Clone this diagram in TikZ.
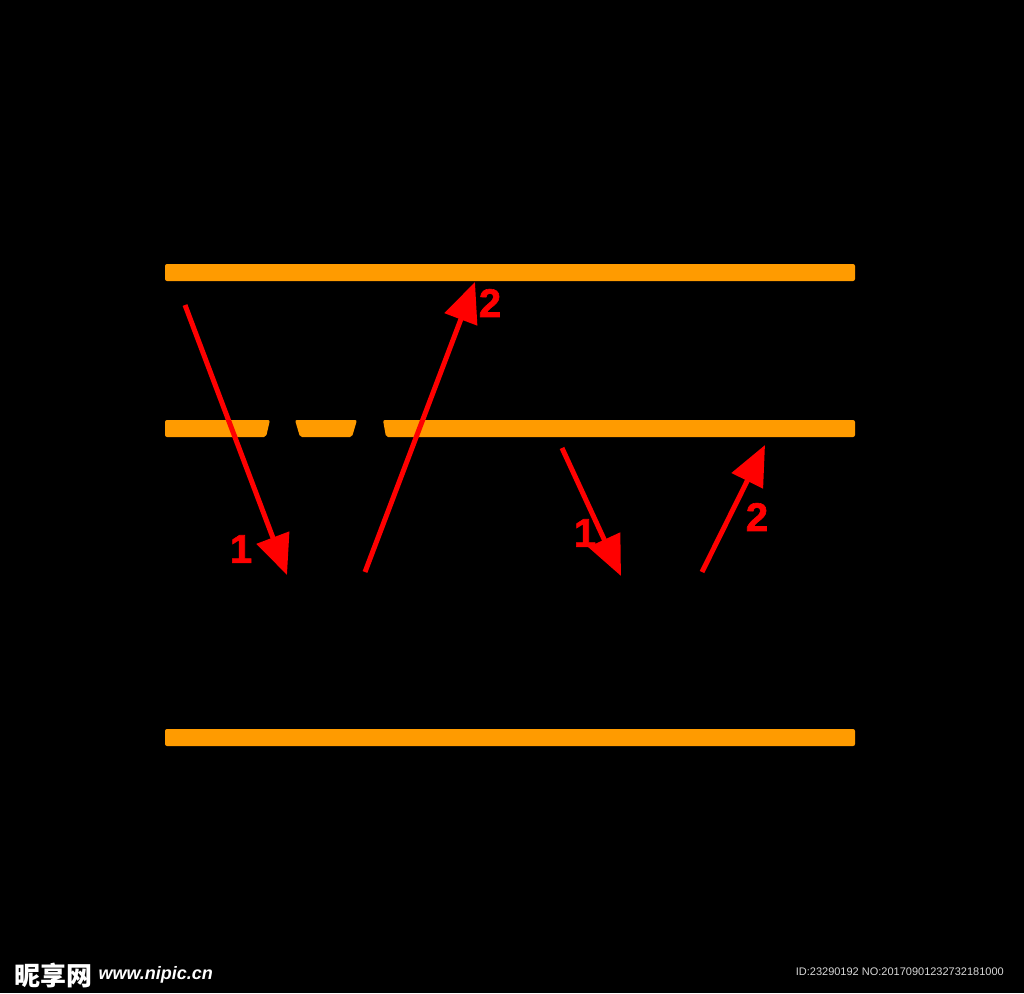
\documentclass[tikz,border=0pt]{standalone}
\usepackage{xcolor}
\usepackage{fontspec}
\setmainfont{Liberation Sans}
\newfontfamily\numfont[FakeBold=1.5]{Liberation Sans}
\newfontfamily\cjk{Noto Sans CJK SC}
\usepackage{tikz}
\usetikzlibrary{positioning, arrows.meta}

\definecolor{barorange}{RGB}{255,155,0}
\definecolor{idgray}{RGB}{215,215,215}

\begin{document}
\begin{tikzpicture}[
    x=1pt, y=-1pt,
    bar/.style={fill=barorange, rounded corners=2pt},
    ray/.style={draw=red, line width=5pt, -{Triangle[length=40pt, width=34pt]}},
    raylabel/.style={text=red, font=\numfont\fontsize{40}{40}\selectfont\bfseries, inner sep=0pt},
    wmark/.style={text=white, inner sep=0pt}
]

% Background
\fill[black] (0,0) rectangle (1024,993);
\useasboundingbox (0,0) rectangle (1024,993);

% Orange bars
\fill[bar] (165,264) rectangle (855,281);
\fill[bar] (165,420) -- (270,420) -- (266,437) -- (165,437) -- cycle;
\fill[bar] (295,420) -- (357,420) -- (352,437) -- (300,437) -- cycle;
\fill[bar] (383,420) -- (855,420) -- (855,437) -- (386,437) -- cycle;
\fill[bar] (165,729) rectangle (855,746);

% Ray end points
\coordinate (l1s) at (185,305);
\coordinate (l1e) at (287,575);
\coordinate (l2s) at (365,572);
\coordinate (l2e) at (475,282);
\coordinate (r1s) at (562,448);
\coordinate (r1e) at (621,576);
\coordinate (r2s) at (702,572);
\coordinate (r2e) at (765,445);

% Rays
\draw[ray] (l1s) -- (l1e);
\draw[ray] (l2s) -- (l2e);
\draw[ray] (r1s) -- (r1e);
\draw[ray] (r2s) -- (r2e);

% Labels
\node[raylabel] (n1) at (241,549) {1};
\node[raylabel] (n2) at (490,303) {2};
\node[raylabel] (n3) at (585,533) {1};
\node[raylabel] (n4) at (757,517) {2};

% Watermark
\node[wmark, anchor=west, font=\cjk\fontsize{26}{26}\selectfont\bfseries] (wm) at (14,975) {昵享网};
\node[wmark, anchor=west, font=\fontsize{18}{18}\selectfont\bfseries\itshape, right=6pt of wm] (url) {www.nipic.cn};
\node[wmark, anchor=east, font=\fontsize{11}{11}\selectfont, text=idgray] (id) at (1004,972) {ID:23290192 NO:20170901232732181000};

\end{tikzpicture}
\end{document}
